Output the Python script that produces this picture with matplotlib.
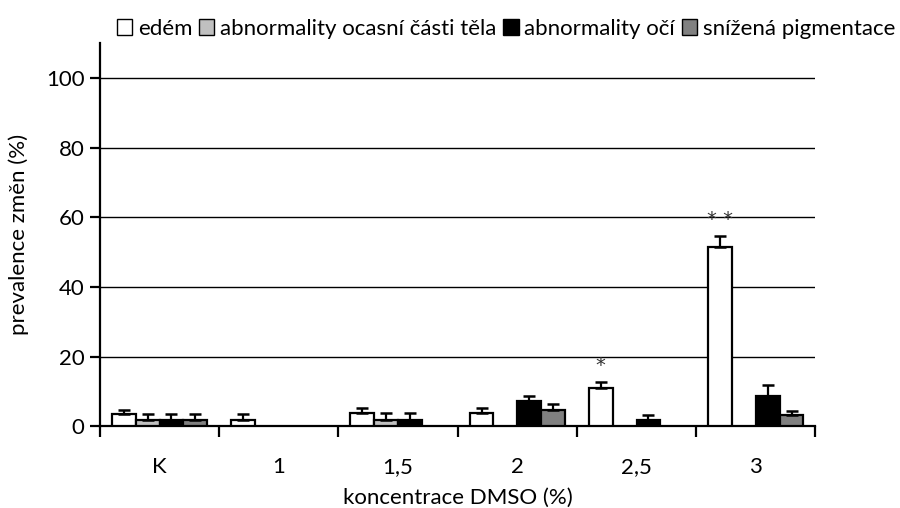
import numpy as np
import matplotlib
matplotlib.use("Agg")
import matplotlib.pyplot as plt
from matplotlib.patches import Patch

plt.rcParams['font.family'] = ['Lato', 'DejaVu Sans']

categories = ["K", "1", "1,5", "2", "2,5", "3"]
series_names = ["edém", "abnormality ocasní části těla", "abnormality očí", "snížená pigmentace"]
series_colors = ["#ffffff", "#c0c0c0", "#000000", "#808080"]

edem = [3.4, 1.9, 3.7, 3.7, 11.1, 51.4]
edem_err = [1.3, 1.6, 1.4, 1.4, 1.5, 3.2]
ocas = [1.7, 0, 1.7, 0, 0, 0]
ocas_err = [1.8, 0, 2.0, 0, 0, 0]
oci = [1.7, 0, 1.9, 7.2, 1.8, 8.8]
oci_err = [1.8, 0, 1.8, 1.6, 1.5, 3.0]
pigment = [1.7, 0, 0, 4.6, 0, 3.1]
pigment_err = [1.8, 0, 0, 1.7, 0, 1.3]

values = [edem, ocas, oci, pigment]
errors = [edem_err, ocas_err, oci_err, pigment_err]

significance = {4: "*", 5: "* *"}

FS = 16

fig = plt.figure(figsize=(9, 5.08), dpi=100)
ax = fig.add_axes([0.111, 0.161, 0.795, 0.754])

x = np.arange(len(categories))
w = 0.2
for i, (vals, errs, col, name) in enumerate(zip(values, errors, series_colors, series_names)):
    pos = x + (i - 1.5) * w
    v = np.array(vals, dtype=float)
    e = np.array(errs, dtype=float)
    mask = v > 0
    ax.bar(pos[mask], v[mask], width=w, color=col, edgecolor="black",
           linewidth=1.6, zorder=3, label=name)
    ax.errorbar(pos[mask], v[mask], yerr=[np.zeros(mask.sum()), e[mask]],
                fmt="none", ecolor="black", elinewidth=1.6, capsize=4,
                capthick=1.8, zorder=4)

for idx, txt in significance.items():
    top = edem[idx] + edem_err[idx]
    ax.text(x[idx] - 1.5 * w, top + 2.0, txt, ha="center", va="bottom",
            fontsize=14, color="#333333", family="DejaVu Sans")

ax.set_xlim(-0.5, len(categories) - 0.5)
ax.set_ylim(0, 110)
ax.set_yticks([0, 20, 40, 60, 80, 100])
ax.set_xticks(x)
ax.set_xticklabels(categories)
ax.set_xticks(np.arange(-0.5, len(categories), 1.0), minor=True)
ax.tick_params(axis="x", which="major", length=0, pad=22, labelsize=FS)
ax.tick_params(axis="x", which="minor", length=8, width=1.6, direction="out")
ax.tick_params(axis="y", length=7, width=1.6, direction="out", labelsize=FS, pad=4)

for yv in [20, 40, 60, 80, 100]:
    ax.axhline(yv, color="black", linewidth=1.0, zorder=1)

for s in ["top", "right"]:
    ax.spines[s].set_visible(False)
ax.spines["left"].set_linewidth(1.6)
ax.spines["bottom"].set_linewidth(1.6)

ax.set_ylabel("prevalence změn (%)", fontsize=FS, labelpad=12)
ax.set_xlabel("koncentrace DMSO (%)", fontsize=FS, labelpad=8)

handles = [Patch(facecolor=c, edgecolor="black", linewidth=1.0) for c in series_colors]
fig.legend(handles, series_names, loc="center", bbox_to_anchor=(0.562, 0.943), ncol=4,
           frameon=False, fontsize=FS, handlelength=0.7, handleheight=0.7,
           handletextpad=0.25, columnspacing=0.3, borderaxespad=0)

fig.savefig("out.png", dpi=100)
